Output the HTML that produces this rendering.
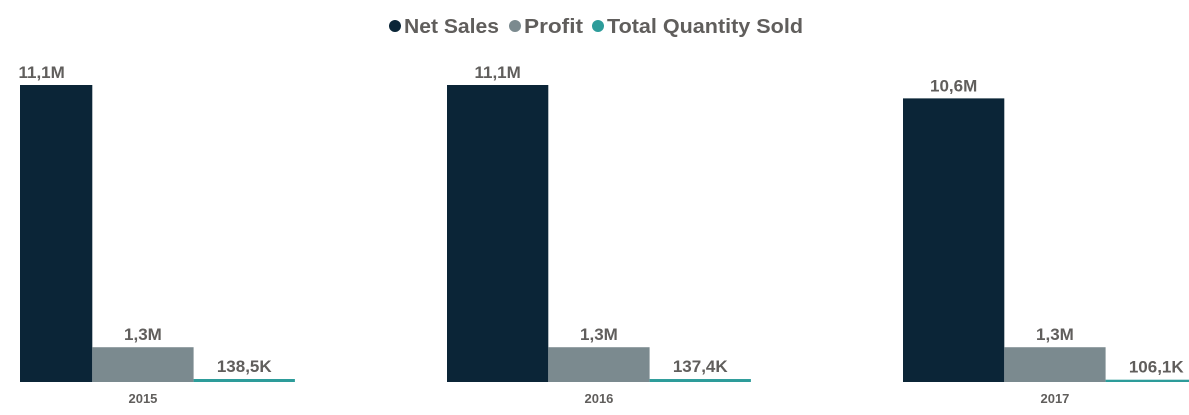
<!DOCTYPE html>
<html><head><meta charset="utf-8"><style>
html,body{margin:0;padding:0;background:#fff;width:1189px;height:415px;overflow:hidden}
text{font-family:"Segoe UI","Liberation Sans",sans-serif;font-weight:bold;fill:#605E5C}
</style></head><body>
<svg id="chart" width="1189" height="415" viewBox="0 0 1189 415" xmlns="http://www.w3.org/2000/svg">
<defs><clipPath id="plot"><rect x="20" y="0" width="1169" height="415"/></clipPath></defs>
<g>
  <g><circle cx="395" cy="26" r="6" fill="#0B2537"/><text x="404" y="33" font-size="20" textLength="95" lengthAdjust="spacingAndGlyphs">Net Sales</text></g>
  <g><circle cx="515" cy="26" r="6" fill="#7B8A8F"/><text x="524" y="33" font-size="20" textLength="59" lengthAdjust="spacingAndGlyphs">Profit</text></g>
  <g><circle cx="598" cy="26" r="6" fill="#2D9C9A"/><text x="607" y="33" font-size="20" textLength="196" lengthAdjust="spacingAndGlyphs">Total Quantity Sold</text></g>
</g>
<g id="bars" clip-path="url(#plot)"></g>
<g id="labels"></g>
</svg>
<script>
const years = ["2015","2016","2017"];
const netSales = [11.1, 11.1, 10.6];
const profit = [1.3, 1.3, 1.3];
const qty = [138.5, 137.4, 106.1];
const netLabels = ["11,1M","11,1M","10,6M"];
const profitLabels = ["1,3M","1,3M","1,3M"];
const qtyLabels = ["138,5K","137,4K","106,1K"];

const NS="http://www.w3.org/2000/svg";
const base = 382;
const yM = v => base - v * (297/11.1);
const yK = v => base - v * (3/138.5);
const groupX = i => -9 + i*456;
const bw = 101.3;
const series = [
  {vals: netSales, labels: netLabels, y: yM, color: "#0B2537", name: "net-sales"},
  {vals: profit, labels: profitLabels, y: yM, color: "#7B8A8F", name: "profit"},
  {vals: qty, labels: qtyLabels, y: yK, color: "#2D9C9A", name: "quantity"}
];
const gb = document.getElementById('bars'), gl = document.getElementById('labels');
years.forEach((yr, i) => {
  series.forEach((s, j) => {
    const x = groupX(i) + j*bw;
    const top = s.y(s.vals[i]);
    const r = document.createElementNS(NS,'rect');
    r.setAttribute('x', x); r.setAttribute('y', top);
    r.setAttribute('width', bw); r.setAttribute('height', base - top);
    r.setAttribute('fill', s.color);
    
    
    gb.appendChild(r);
    const t = document.createElementNS(NS,'text');
    t.setAttribute('x', x + bw/2); t.setAttribute('y', top - 7);
    t.setAttribute('text-anchor', 'middle'); t.setAttribute('font-size', '17');
    t.textContent = s.labels[i];
    
    
    gl.appendChild(t);
  });
  const t = document.createElementNS(NS,'text');
  t.setAttribute('x', groupX(i) + 1.5*bw); t.setAttribute('y', 403);
  t.setAttribute('text-anchor', 'middle'); t.setAttribute('font-size', '13');
  t.textContent = yr;
  
  
  gl.appendChild(t);
});
</script>
</body></html>
